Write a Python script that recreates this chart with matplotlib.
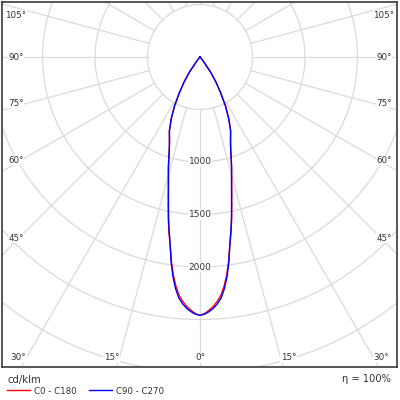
import numpy as np
import matplotlib.pyplot as plt
from matplotlib.patches import Circle

# luminous intensity distribution, cd/klm
gamma = [0, 1, 2, 3, 4, 5, 6, 7, 8, 9, 10, 11, 12, 13, 14, 15, 16, 17, 18, 19, 20,
         22.5, 25, 27.5, 30, 32.5, 35, 37.5, 40, 42.5, 45, 50, 60, 70, 80, 90]
i_c0_c180 = [2460, 2445, 2415, 2380, 2335, 2280, 2195, 2090, 1960, 1815, 1700, 1580, 1455,
             1345, 1248, 1165, 1093, 1018, 950, 895, 850,
             762, 648, 525, 392, 283, 175, 60, 20, 5, 0, 0, 0, 0, 0, 0]
i_c90_c270 = [2460, 2450, 2428, 2398, 2358, 2305, 2220, 2110, 1975, 1815, 1690, 1570, 1445,
              1335, 1240, 1160, 1090, 1015, 950, 895, 850,
              762, 648, 525, 392, 283, 175, 60, 20, 5, 0, 0, 0, 0, 0, 0]
series_names = ['C0 - C180', 'C90 - C270']
series_colors = ['red', 'blue']

ring_values = [500, 1000, 1500, 2000, 2500, 3000, 3500]
ring_labels = [1000, 1500, 2000]
angle_step = 15
efficiency = '100%'

grid_col = '#dadada'
text_col = '#333333'
px = 500 / 52.5  # cd per pixel

fig = plt.figure(figsize=(4, 4), dpi=100)
ax = fig.add_axes([2 / 400, 33 / 400, 395 / 400, 365 / 400])
ax.set_xlim(-198 * px, 197 * px)
ax.set_ylim(-310 * px, 55 * px)
ax.set_xticks([])
ax.set_yticks([])
for s in ax.spines.values():
    s.set_color('#3a3a3a')
    s.set_linewidth(1.2)

# grid
for r in ring_values:
    ax.add_patch(Circle((0, 0), r, fill=False, ec=grid_col, lw=0.9, zorder=1))
for a in range(0, 360, angle_step):
    t = np.radians(a)
    ax.plot([500 * np.sin(t), 6000 * np.sin(t)], [-500 * np.cos(t), -6000 * np.cos(t)],
            color=grid_col, lw=0.9, zorder=1)

for v in ring_labels:
    ax.text(0, -v, str(v), ha='center', va='center', fontsize=6.5, color=text_col, zorder=3,
            bbox=dict(fc='white', ec='none', pad=0.6))

# angle labels
box = dict(fc='white', ec='none', pad=0.4)
side_x = 184 * px
bottom_y = -301 * px
fs = 6.3
for a in range(0, 106, angle_step):
    t = np.radians(a)
    lab = '%d°' % a
    if a >= 45:
        y = -side_x / np.tan(t) if a != 90 else 0
        y = min(y + 3 * px, 42 * px) if a < 90 else min(y, 42 * px)
        for sx in (-1, 1):
            ax.text(sx * side_x, y, lab, ha='center', va='center', fontsize=fs,
                    color=text_col, bbox=box, zorder=3)
    elif a == 0:
        ax.text(0, bottom_y, lab, ha='center', va='center', fontsize=fs,
                color=text_col, bbox=box, zorder=3)
    else:
        x = -bottom_y * np.tan(t)
        ax.text(-x, bottom_y, lab, ha='right', va='center', fontsize=fs,
                color=text_col, bbox=box, zorder=3)
        ax.text(x, bottom_y, lab, ha='left', va='center', fontsize=fs,
                color=text_col, bbox=box, zorder=3)

# curves
g = np.radians(np.array(gamma))
handles = []
for vals, name, col in zip([i_c0_c180, i_c90_c270], series_names, series_colors):
    iv = np.array(vals, dtype=float)
    xs = np.concatenate([-(iv * np.sin(g))[::-1], (iv * np.sin(g))[1:]])
    ys = np.concatenate([-(iv * np.cos(g))[::-1], -(iv * np.cos(g))[1:]])
    ln, = ax.plot(xs, ys, color=col, lw=1.0, zorder=2, label=name)
    handles.append(ln)

fig.text(7 / 400, 1 - 380 / 400, 'cd/klm', fontsize=7.3, color=text_col, va='center')
fig.text(391 / 400, 1 - 379 / 400, 'η = ' + efficiency, fontsize=7.1, color=text_col,
         va='center', ha='right')
fig.legend(handles=handles, loc='center left', bbox_to_anchor=(7 / 400, 1 - 391 / 400),
           ncol=2, frameon=False, fontsize=6.2, handlelength=2.7, handletextpad=0.45,
           columnspacing=1.4, borderpad=0, borderaxespad=0, labelcolor=text_col)

fig.savefig('out.png', dpi=100, facecolor='white')
